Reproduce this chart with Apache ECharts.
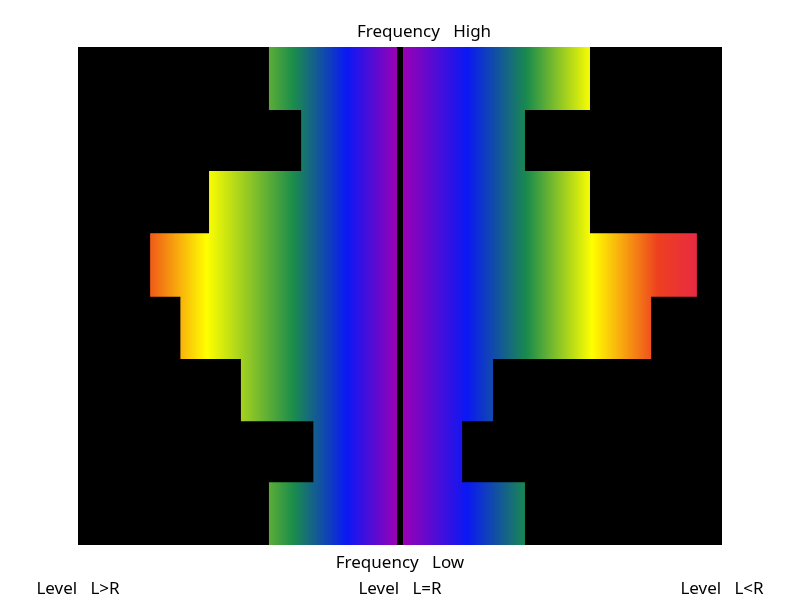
<!DOCTYPE html>
<html>
<head>
<meta charset="utf-8">
<script src="https://cdn.jsdelivr.net/npm/echarts@6/dist/echarts.min.js"></script>
<style>html,body{margin:0;padding:0;background:#fff}#c{width:800px;height:600px}</style>
</head>
<body>
<div id="c"></div>
<script>
// Rows from top (high frequency) to bottom (low frequency)
const rows = ['r1', 'r2', 'r3', 'r4', 'r5', 'r6', 'r7', 'r8'];
// Extent of the left half (level L>R side) per row
const leftValues = [4.07, 3.07, 5.93, 7.76, 6.82, 4.94, 2.69, 4.07];
// Extent of the right half (level L<R side) per row
const rightValues = [5.90, 3.88, 5.90, 9.22, 7.80, 2.89, 1.93, 3.88];
// Tick labels at -10, 0, 10
const levelLabels = ['Level   L>R', 'Level   L=R', 'Level   L<R'];
const topLabel = 'Frequency   High';
const bottomLabel = 'Frequency   Low';

// gradient colour stops (position in axis units from centre, colour)
const leftStopPos = [0.1, 1.65, 3.3, 6.0, 7.76];
const leftStopCol = ['#9A00B4', '#0A18F5', '#1A8C4C', '#FFFF00', '#F05A18'];
const rightStopPos = [0.1, 2.08, 3.95, 5.96, 8.0, 9.22];
const rightStopCol = ['#9A00B4', '#0A18F5', '#1A8C4C', '#FFFF00', '#EE4020', '#E82A42'];

const FONT = 'Noto Sans';
const FS = 17;
const chart = echarts.init(document.getElementById('c'), null, {renderer: 'canvas'});

const option = {
  backgroundColor: '#fff',
  animation: false,
  grid: {left: 78, right: 78, top: 47, bottom: 55, show: true, backgroundColor: '#000', borderWidth: 0,
         containLabel: false, outerBoundsMode: 'none'},
  xAxis: {
    type: 'value', min: -10, max: 10, interval: 10,
    axisLine: {show: false}, axisTick: {show: false}, splitLine: {show: false},
    axisLabel: {
      margin: 36, color: '#000', fontFamily: FONT, fontSize: FS,
      formatter: v => levelLabels[Math.round((v + 10) / 10)]
    },
    name: bottomLabel, nameLocation: 'middle', nameGap: 10, nameMoveOverlap: false,
    nameTextStyle: {color: '#000', fontFamily: FONT, fontSize: FS}
  },
  yAxis: {
    type: 'category', data: rows, inverse: true,
    axisLine: {show: false}, axisTick: {show: false}, axisLabel: {show: false}, splitLine: {show: false}
  },
  graphic: [{
    type: 'text', x: 424, y: 32,
    style: {text: topLabel, fill: '#000', font: FS + 'px "' + FONT + '"', align: 'center', verticalAlign: 'middle'}
  }],
  series: [
    {
      name: 'left', type: 'bar', data: leftValues.map(v => -v),
      barWidth: 63.5, barGap: '-100%', itemStyle: {color: '#888', borderWidth: 0}
    },
    {
      name: 'right', type: 'bar', data: rightValues,
      barWidth: 63.5, barGap: '-100%', itemStyle: {color: '#888', borderWidth: 0},
      markLine: {
        silent: true, symbol: 'none', label: {show: false},
        lineStyle: {color: '#000', width: 6, type: 'solid'},
        data: [{xAxis: 0}]
      }
    }
  ]
};
chart.setOption(option);

function px(v) { return chart.convertToPixel({gridIndex: 0}, [v, 0])[0]; }
function makeGrad(sign, pos, col) {
  const end = pos[pos.length - 1];
  const x0 = px(0), x1 = px(sign * end);
  const stops = pos.map((p, i) => ({offset: p / end, color: col[i]}));
  return new echarts.graphic.LinearGradient(x0, 0, x1, 0, stops, true);
}
chart.setOption({
  series: [
    {name: 'left', itemStyle: {color: makeGrad(-1, leftStopPos, leftStopCol)}},
    {name: 'right', itemStyle: {color: makeGrad(1, rightStopPos, rightStopCol)}}
  ]
});
</script>
</body>
</html>
